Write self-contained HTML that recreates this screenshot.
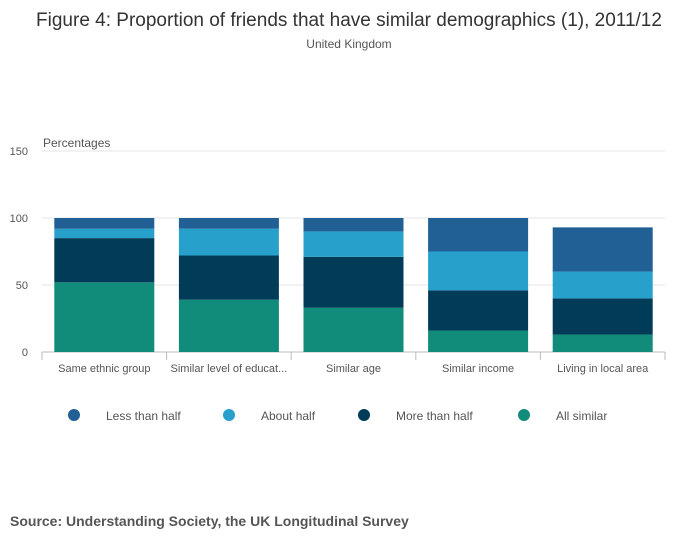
<!DOCTYPE html>
<html><head><meta charset="utf-8"><style>
body{margin:0;background:#fff;font-family:"Liberation Sans",sans-serif;}
#c{position:relative;width:700px;height:549px;overflow:hidden}
</style></head><body>
<div id="c">
<svg id="s" width="700" height="549" xmlns="http://www.w3.org/2000/svg">
<text x="349" y="26" text-anchor="middle" font-size="19" fill="#333">Figure 4: Proportion of friends that have similar demographics (1), 2011/12</text>
<text x="349" y="48" text-anchor="middle" font-size="12" fill="#555">United Kingdom</text>
<text x="43" y="147" font-size="12" fill="#555">Percentages</text>
<g id="grid"></g><g id="bars"></g><g id="xax"></g><g id="legend"></g>
<text x="10" y="526" font-size="14" font-weight="bold" fill="#555">Source: Understanding Society, the UK Longitudinal Survey</text>
</svg></div>
<script>
const categories=["Same ethnic group","Similar level of educat...","Similar age","Similar income","Living in local area"];
const seriesNames=["All similar","More than half","About half","Less than half"];
const allSimilar=[52,39,33,16,13];
const moreThanHalf=[33,33,38,30,27];
const aboutHalf=[7,20,19,29,20];
const lessThanHalf=[8,8,10,25,33];
const yTicks=[0,50,100,150];
const colors=["#118c7b","#003c57","#27a0cc","#206095"];
const NS="http://www.w3.org/2000/svg";
const x0=42,x1=665,y0=352,yTop=151,yMax=150;
const y=v=>y0-(v/yMax)*(y0-yTop);
const band=(x1-x0)/categories.length;
function mk(t,a,p){const e=document.createElementNS(NS,t);for(const k in a)e.setAttribute(k,a[k]);p.appendChild(e);return e;}
const grid=document.getElementById('grid');
yTicks.forEach(t=>{
 const l=mk('line',{x1:x0,x2:x1,y1:y(t),y2:y(t),stroke:t===0?'#bbb':'#e5e5e5'},grid);
 
 
 const tx=mk('text',{x:28,y:y(t)+4,'text-anchor':'end','font-size':11,fill:'#555'},grid);tx.textContent=t;
 
 
});
const series=[allSimilar,moreThanHalf,aboutHalf,lessThanHalf];
const bars=document.getElementById('bars'),xax=document.getElementById('xax');
categories.forEach((c,i)=>{
 let cum=0;const bx=x0+i*band+(band-100)/2;
 series.forEach((s,j)=>{
  const r=mk('rect',{x:bx,width:100,y:y(cum+s[i]),height:y(cum)-y(cum+s[i]),fill:colors[j]},bars);
  
  
  cum+=s[i];
 });
 const tk=mk('line',{x1:x0+i*band,x2:x0+i*band,y1:y0,y2:y0+8,stroke:'#bbb'},xax);
 
 
 const t=mk('text',{x:x0+i*band+band/2,y:372,'text-anchor':'middle','font-size':11,fill:'#555'},xax);t.textContent=c;
 
 
});
const te=mk('line',{x1:x1,x2:x1,y1:y0,y2:y0+8,stroke:'#bbb'},xax);


const lg=document.getElementById('legend');
const lx=[74,229,364,524],order=[3,2,1,0];
order.forEach((j,k)=>{
 const g=mk('g',{},lg);
 
 
 mk('circle',{cx:lx[k],cy:415,r:6,fill:colors[j]},g);
 const t=mk('text',{x:lx[k]+32,y:420,'font-size':12,fill:'#555'},g);t.textContent=seriesNames[j];
});
</script>
</body></html>
